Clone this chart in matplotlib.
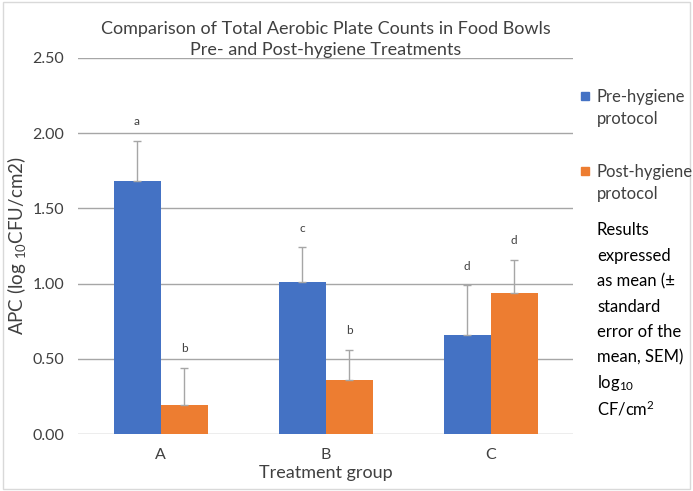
import numpy as np
import matplotlib.pyplot as plt

plt.rcParams['font.family'] = ['Lato', 'DejaVu Sans']
plt.rcParams['mathtext.fontset'] = 'custom'
plt.rcParams['mathtext.rm'] = 'Lato'
plt.rcParams['mathtext.it'] = 'Lato'
plt.rcParams['mathtext.default'] = 'rm'

groups = ['A', 'B', 'C']
pre_mean = [1.68, 1.01, 0.66]
post_mean = [0.19, 0.36, 0.94]
pre_err = [0.27, 0.23, 0.33]
post_err = [0.25, 0.20, 0.22]
pre_letters = ['a', 'c', 'd']
post_letters = ['b', 'b', 'd']
note_lines = ['Results', 'expressed', 'as mean (±', 'standard', 'error of the',
              'mean, SEM)', 'log$_{10}$', 'CF/cm$^2$']

fig = plt.figure(figsize=(6.93, 4.91), dpi=100)
ax = fig.add_axes([0.1126, 0.116, 0.7144, 0.766])

x = np.arange(len(groups))
w = 0.285
blue = '#4472C4'
orange = '#ED7D31'
ekw = dict(ecolor='#a6a6a6', elinewidth=1, capsize=3, capthick=1)
ax.bar(x - w/2, pre_mean, w, color=blue, yerr=[[0]*3, pre_err], error_kw=ekw, zorder=3)
ax.bar(x + w/2, post_mean, w, color=orange, yerr=[[0]*3, post_err], error_kw=ekw, zorder=3)

for i in range(len(groups)):
    ax.text(x[i] - w/2, pre_mean[i] + pre_err[i] + 0.09, pre_letters[i], ha='center', va='bottom', fontsize=8.5, color='#404040')
    ax.text(x[i] + w/2, post_mean[i] + post_err[i] + 0.09, post_letters[i], ha='center', va='bottom', fontsize=8.5, color='#404040')

ax.set_xlim(-0.5, 2.5)
ax.set_ylim(0, 2.5)
ax.set_yticks(np.arange(0, 2.51, 0.5))
ax.set_yticklabels(['%.2f' % v for v in np.arange(0, 2.51, 0.5)])
ax.set_xticks(x)
ax.set_xticklabels(groups)
ax.tick_params(length=0, labelsize=11.5, colors='#404040', pad=10)
ax.yaxis.grid(True, color='#a6a6a6', linewidth=1, zorder=0)
for s in ax.spines.values():
    s.set_visible(False)
ax.set_xlabel('Treatment group', fontsize=13, color='#404040', labelpad=2)
ax.set_ylabel('APC (log $_{10}$CFU/cm2)', fontsize=13.5, color='#404040', labelpad=3)
ax.set_title('Comparison of Total Aerobic Plate Counts in Food Bowls\nPre- and Post-hygiene Treatments',
             fontsize=13, color='#404040', pad=0, linespacing=1.4)

# legend-like labels on the right
fig.patches.append(plt.Rectangle((581/693, 1 - 100/491), 8/693, 8/491, transform=fig.transFigure, color=blue))
fig.text(597/693, 1 - 108/491, 'Pre-hygiene\nprotocol', fontsize=12, color='#404040', va='center', linespacing=1.5)
fig.patches.append(plt.Rectangle((581/693, 1 - 175/491), 8/693, 8/491, transform=fig.transFigure, color=orange))
fig.text(597/693, 1 - 183/491, 'Post-hygiene\nprotocol', fontsize=12, color='#404040', va='center', linespacing=1.5)
for k, line in enumerate(note_lines):
    fig.text(597/693, 1 - (230 + 25.5 * k)/491, line, fontsize=12, color='#000000', va='center')

fig.patches.append(plt.Rectangle((0.005, 0.005), 0.99, 0.99, transform=fig.transFigure, fill=False, edgecolor='#d9d9d9', linewidth=1))
fig.savefig('out.png', dpi=100)
